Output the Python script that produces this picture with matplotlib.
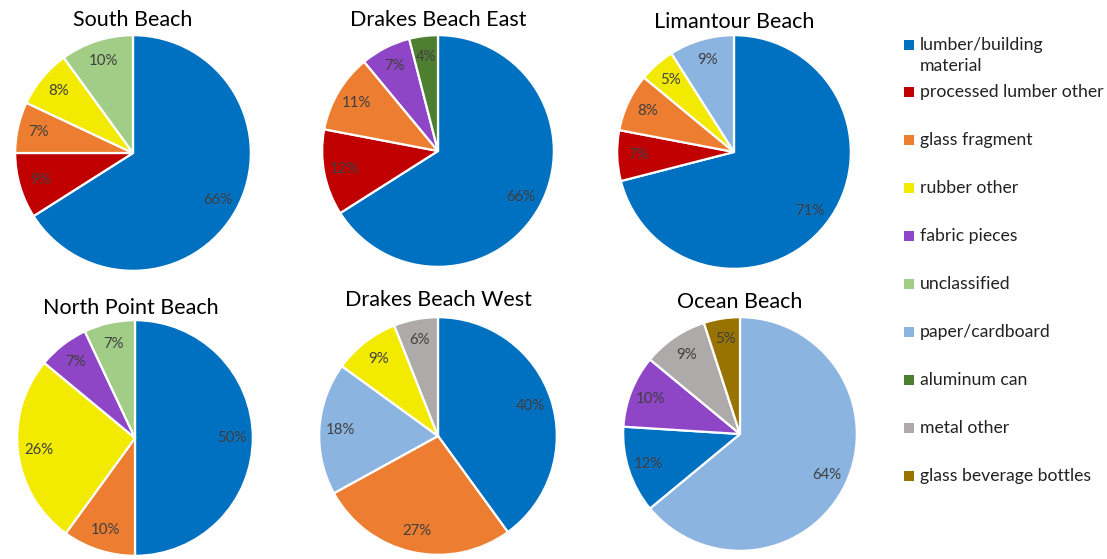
import matplotlib
matplotlib.use("Agg")
import matplotlib.pyplot as plt
from matplotlib.patches import Rectangle

plt.rcParams['font.family'] = ['Lato', 'DejaVu Sans']

# ---- data ----
categories = ["lumber/building\nmaterial", "processed lumber other", "glass fragment",
              "rubber other", "fabric pieces", "unclassified", "paper/cardboard",
              "aluminum can", "metal other", "glass beverage bottles"]
cat_colors = ["#0070C0", "#C00000", "#ED7D31", "#F2EA00", "#8E45C6", "#A2CD87",
              "#8BB4E0", "#4E7F30", "#AEAAAA", "#997300"]

south_beach_cats = [0, 1, 2, 3, 5]
south_beach_vals = [66, 9, 7, 8, 10]
drakes_east_cats = [0, 1, 2, 4, 7]
drakes_east_vals = [66, 12, 11, 7, 4]
limantour_cats = [0, 1, 2, 3, 6]
limantour_vals = [71, 7, 8, 5, 9]
north_point_cats = [0, 2, 3, 4, 5]
north_point_vals = [50, 10, 26, 7, 7]
drakes_west_cats = [0, 2, 6, 3, 8]
drakes_west_vals = [40, 27, 18, 9, 6]
ocean_cats = [6, 0, 4, 8, 9]
ocean_vals = [64, 12, 10, 9, 5]

titles = ["South Beach", "Drakes Beach East", "Limantour Beach",
          "North Point Beach", "Drakes Beach West", "Ocean Beach"]
pies = [(south_beach_cats, south_beach_vals), (drakes_east_cats, drakes_east_vals),
        (limantour_cats, limantour_vals), (north_point_cats, north_point_vals),
        (drakes_west_cats, drakes_west_vals), (ocean_cats, ocean_vals)]

# ---- layout (pixels) ----
W, H = 1107, 559
fig = plt.figure(figsize=(W / 100, H / 100), dpi=100)
centers = [(133, 153, 119), (438, 151, 117), (734, 152, 118),
           (135, 438, 119), (438, 436, 120), (740, 434, 118)]
title_pos = [(133, 20), (438, 20), (734, 22), (131, 308), (438, 300), (740, 302)]

for (cats, vals), (cx, cy, r), title, (tx, ty) in zip(pies, centers, titles, title_pos):
    ax = fig.add_axes([(cx - r) / W, 1 - (cy + r) / H, 2 * r / W, 2 * r / H])
    wedges, texts, autotexts = ax.pie(
        vals, colors=[cat_colors[c] for c in cats], startangle=90, counterclock=False,
        autopct=lambda p: f"{p:.0f}%", pctdistance=0.82, radius=1,
        wedgeprops=dict(edgecolor="white", linewidth=1.6),
        textprops=dict(color="#404040", fontsize=10.8))
    ax.set_xlim(-1.01, 1.01)
    ax.set_ylim(-1.01, 1.01)
    ax.set_aspect("equal")
    ax.axis("off")
    fig.text(tx / W, 1 - ty / H, title, ha="center", va="center", fontsize=15.5, color="#000000")

# ---- legend ----
leg_y = [45, 92, 140, 188, 236, 284, 332, 380, 428, 476]
for i, (lab, col) in enumerate(zip(categories, cat_colors)):
    y = leg_y[i]
    fig.patches.append(Rectangle((904 / W, 1 - (y + 5) / H), 10 / W, 10 / H,
                                 transform=fig.transFigure, facecolor=col, edgecolor="none"))
    fig.text(920 / W, 1 - (y - 8) / H, lab, ha="left", va="top", fontsize=12.7,
             color="#222222", linespacing=1.35)

fig.savefig("out.png", dpi=100)
